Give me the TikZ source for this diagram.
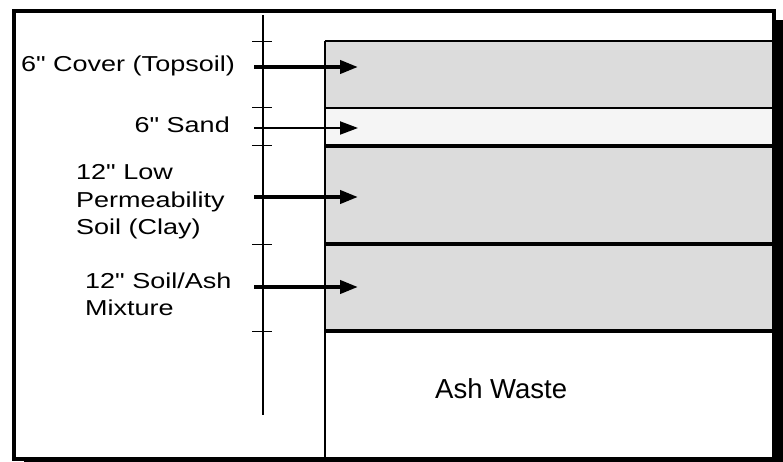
\documentclass[tikz,border=0pt]{standalone}
\usepackage{fontspec}
\setmainfont{Liberation Sans}
\newfontfamily\widefont{Liberation Sans}[FakeStretch=1.25]
\usetikzlibrary{arrows.meta}
\definecolor{soilgray}{HTML}{DCDCDC}
\definecolor{sandwhite}{HTML}{F5F5F5}
\tikzset{
  ptr/.style={-{Triangle[length=18pt,width=13pt]}, line width=#1},
  lbl/.style={font=\widefont\fontsize{21.6}{27.5}\selectfont, inner sep=0, align=left},
}
\begin{document}
\begin{tikzpicture}[x=1pt,y=-1pt]
  \useasboundingbox (0,0) rectangle (783,462);
  % shadow and frame
  \fill[black] (24,20) rectangle (783,462);
  \filldraw[fill=white, line width=3.8pt] (14,10.7) rectangle (774,459);
  % layers
  \fill[soilgray] (325,41) rectangle (772,108);
  \fill[sandwhite] (325,108) rectangle (772,146);
  \fill[soilgray] (325,146) rectangle (772,331);
  \foreach \y in {41,108}
    \draw[line width=1.5pt] (325,\y) -- (772,\y);
  \foreach \y in {146,244,331}
    \draw[line width=3.2pt] (325,\y) -- (772,\y);
  \draw[line width=2pt] (325,41) -- (325,457);
  % depth axis
  \draw[line width=2pt] (263,15) -- (263,415);
  \foreach \y in {42,108,146,244,331}
    \draw[line width=1pt] (252,\y) -- (272,\y);
  % labels
  \node[lbl, anchor=base east] (cover) at (235,72) {6" Cover (Topsoil)};
  \node[lbl, anchor=base east] (sand) at (230,133) {6" Sand};
  \node[lbl, anchor=north west] (clay) at (76,164.5) {12" Low\\Permeability\\Soil (Clay)};
  \node[lbl, anchor=north west] (mix) at (85,272.5) {12" Soil/Ash\\Mixture};
  \node[font=\fontsize{27.5}{33}\selectfont, inner sep=0, anchor=base west] (ash) at (435,398) {Ash Waste};
  % arrows
  \foreach \y/\n in {67/1,128/2,197/3,287/4} {
    \coordinate (s\n) at (254,\y);
    \coordinate (e\n) at (358,\y);
  }
  \draw[ptr=4pt] (s1) -- (e1);
  \draw[ptr=2pt] (s2) -- (e2);
  \draw[ptr=4pt] (s3) -- (e3);
  \draw[ptr=4pt] (s4) -- (e4);
\end{tikzpicture}
\end{document}
